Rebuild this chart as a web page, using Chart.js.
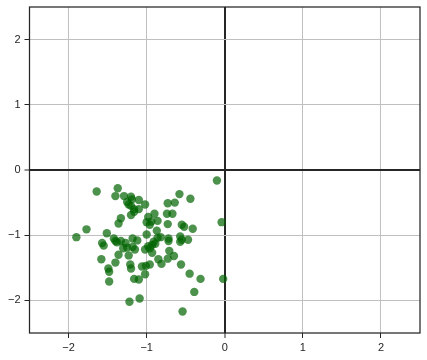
<!DOCTYPE html>
<html>
<head>
<meta charset="utf-8">
<script src="https://cdn.jsdelivr.net/npm/chart.js@4/dist/chart.umd.min.js"></script>
<style>
html,body{margin:0;padding:0;background:#fff;}
#wrap{width:427px;height:360px;}
</style>
</head>
<body>
<div id="wrap"><canvas id="c" width="427" height="360"></canvas></div>
<script>
const xValues = [-0.10,-0.04,-0.02,-0.54,-0.39,-0.31,-0.45,-0.56,-0.58,-0.44,
  -0.73,-0.64,-0.67,-0.74,-0.73,-0.55,-0.52,-0.41,-0.57,-0.55,
  -0.47,-0.57,-1.64,-1.37,-1.40,-1.29,-1.20,-1.19,-1.10,-1.02,
  -1.23,-1.20,-1.16,-1.10,-1.20,-1.16,-0.98,-1.33,-1.36,-1.00,
  -0.94,-0.96,-0.90,-0.86,-1.77,-1.90,-1.51,-1.42,-1.33,-1.38,
  -1.57,-1.55,-1.18,-1.12,-1.25,-1.18,-1.15,-1.00,-0.87,-0.82,
  -0.86,-0.72,-0.91,-0.93,-0.96,-1.02,-0.71,-0.65,-0.85,-0.73,
  -0.81,-1.36,-1.23,-1.58,-1.40,-1.21,-1.20,-1.06,-1.01,-0.96,
  -1.49,-1.48,-1.02,-1.16,-1.10,-1.48,-1.22,-1.09,-1.40,-1.27,
  -1.30,-0.98,-0.72,-0.89,-1.25,-0.93];
const yValues = [-0.16,-0.80,-1.67,-2.17,-1.87,-1.67,-1.59,-1.45,-0.37,-0.44,
  -0.51,-0.50,-0.67,-0.67,-0.83,-0.84,-0.87,-0.90,-1.02,-1.07,
  -1.07,-1.10,-0.33,-0.28,-0.40,-0.40,-0.41,-0.45,-0.46,-0.53,
  -0.53,-0.55,-0.60,-0.60,-0.69,-0.64,-0.72,-0.74,-0.82,-0.80,
  -0.79,-0.84,-0.67,-0.78,-0.91,-1.03,-0.97,-1.05,-1.09,-1.11,
  -1.12,-1.16,-1.05,-1.08,-1.19,-1.18,-1.22,-0.99,-0.93,-1.03,
  -1.04,-1.05,-1.10,-1.15,-1.20,-1.22,-1.24,-1.32,-1.37,-1.36,
  -1.44,-1.30,-1.31,-1.37,-1.42,-1.45,-1.51,-1.48,-1.47,-1.45,
  -1.51,-1.56,-1.60,-1.67,-1.68,-1.71,-2.02,-1.97,-1.09,-1.12,
  -1.20,-1.17,-1.09,-1.13,-0.49,-1.27];
const tickValues = [-2,-1,0,1,2];
const axisMin = -2.5, axisMax = 2.5;

const points = xValues.map((x,i)=>({x:x,y:yValues[i]}));

const frame = {
  id:'frame',
  afterDraw(chart){
    const a = chart.chartArea, ctx = chart.ctx;
    ctx.save();
    ctx.strokeStyle = '#262626';
    ctx.lineWidth = 1.25;
    ctx.strokeRect(a.left, a.top, a.right-a.left, a.bottom-a.top);
    ctx.restore();
  }
};

const fmt = v => (v<0 ? '\u2212'+Math.abs(v) : String(v));
const gridCfg = {
  color: c => (c.tick && c.tick.value===0) ? '#262626' : '#c0c0c0',
  lineWidth: c => (c.tick && c.tick.value===0) ? 2 : 1,
  drawTicks: true,
  tickLength: 5,
  tickColor: '#262626',
  tickWidth: 1
};
const tickFont = {family:'"Liberation Sans", Arial, sans-serif', size:11};

new Chart(document.getElementById('c'), {
  type:'scatter',
  data:{datasets:[{
    data: points,
    backgroundColor:'rgba(0,100,0,0.7)',
    borderColor:'rgba(0,100,0,0.7)',
    borderWidth:0,
    pointRadius:4.2,
    pointHoverRadius:4.2
  }]},
  options:{
    responsive:false,
    animation:false,
    devicePixelRatio:1,
    layout:{padding:{top:7,right:7,left:0,bottom:0}},
    plugins:{legend:{display:false},tooltip:{enabled:false}},
    scales:{
      x:{
        type:'linear', min:axisMin, max:axisMax,
        afterBuildTicks: s => { s.ticks = tickValues.map(v=>({value:v})); },
        afterFit: s => { s.height = 27; s.paddingLeft = 0; s.paddingRight = 0; },
        grid: gridCfg,
        border:{display:false},
        ticks:{color:'#262626', font:tickFont, padding:3, callback: v => fmt(v), maxRotation:0}
      },
      y:{
        type:'linear', min:axisMin, max:axisMax,
        afterBuildTicks: s => { s.ticks = tickValues.map(v=>({value:v})); },
        afterFit: s => { s.width = 29.5; s.paddingTop = 0; s.paddingBottom = 0; },
        grid: gridCfg,
        border:{display:false},
        ticks:{color:'#262626', font:tickFont, padding:4, callback: v => fmt(v)}
      }
    }
  },
  plugins:[frame]
});
</script>
</body>
</html>
